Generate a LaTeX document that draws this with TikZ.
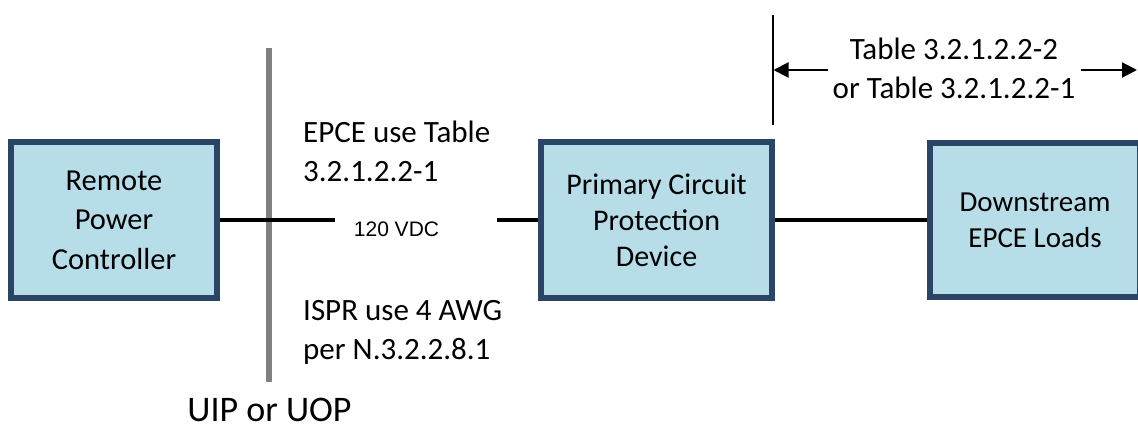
\documentclass[tikz,border=0pt]{standalone}
\usepackage{fontspec}
\setmainfont{Carlito}
\newfontfamily\arialfont{Liberation Sans}
\usetikzlibrary{arrows.meta}
\definecolor{boxfill}{HTML}{B7DDE8}
\definecolor{boxedge}{HTML}{2B4566}
\definecolor{barcol}{HTML}{808080}

\begin{document}
\begin{tikzpicture}[x=1pt,y=-1pt,
  unit/.style={draw=boxedge, fill=boxfill, line width=6pt, inner sep=0pt,
    align=center, minimum height=156pt},
  wire/.style={line width=4pt},
  note/.style={inner sep=0pt, align=left, font=\fontsize{31}{39}\selectfont},
  dimline/.style={line width=1.5pt},
  dimarrow/.style={line width=2pt, -{Triangle[length=15pt,width=15pt]}}]
\useasboundingbox (0,0) rectangle (1138,427);
\clip (0,0) rectangle (1138,427);

% interface boundary
\coordinate (bartop) at (269,48);
\coordinate (barbot) at (269,382);
\draw[barcol, line width=6pt] (bartop) -- (barbot);
\node[anchor=base, inner sep=0pt, font=\fontsize{36}{40}\selectfont] (uip) at (269.5,421) {UIP or UOP};

% equipment blocks
\node[unit, minimum width=206pt, font=\fontsize{30.5}{39.5}\selectfont] (rpc) at (114,220)
  {Remote\\Power\\Controller};
\node[unit, minimum width=231pt, font=\fontsize{30}{36}\selectfont] (pcpd) at (656.5,220)
  {Primary Circuit\\Protection\\Device};
\node[unit, minimum width=210pt, minimum height=154pt, font=\fontsize{29}{36}\selectfont] (loads) at (1035,220)
  {Downstream\\EPCE Loads};

% feeder wiring
\coordinate (feedA) at (335,220);
\coordinate (feedB) at (497,220);
\draw[wire] (rpc.east) -- (feedA);
\draw[wire] (feedB) -- (pcpd.west);
\draw[wire] (pcpd.east) -- (loads.west);
\node[anchor=base, inner sep=0pt, font=\arialfont\fontsize{21}{24}\selectfont] (vdc) at (396.5,237) {120 VDC};

% wire sizing notes (base anchor sits on the last line)
\node[note, anchor=base west] (epce) at (303,182) {EPCE use Table\\3.2.1.2.2-1};
\node[note, anchor=base west] (ispr) at (303,360) {ISPR use 4 AWG\\per N.3.2.2.8.1};

% dimension for downstream wiring
\coordinate (dimtop) at (773,15);
\coordinate (dimbot) at (773,125);
\draw[dimline] (dimtop) -- (dimbot);
\node[anchor=base, inner xsep=5pt, inner ysep=0pt, align=center, font=\fontsize{31}{39}\selectfont] (dimtxt) at (954,99)
  {Table 3.2.1.2.2-2\\or Table 3.2.1.2.2-1};
\coordinate (dimL) at (773.5,70);
\coordinate (dimR) at (1137,70);
\draw[dimarrow] (dimtxt.west |- dimL) -- (dimL);
\draw[dimarrow] (dimtxt.east |- dimR) -- (dimR);
\end{tikzpicture}
\end{document}
